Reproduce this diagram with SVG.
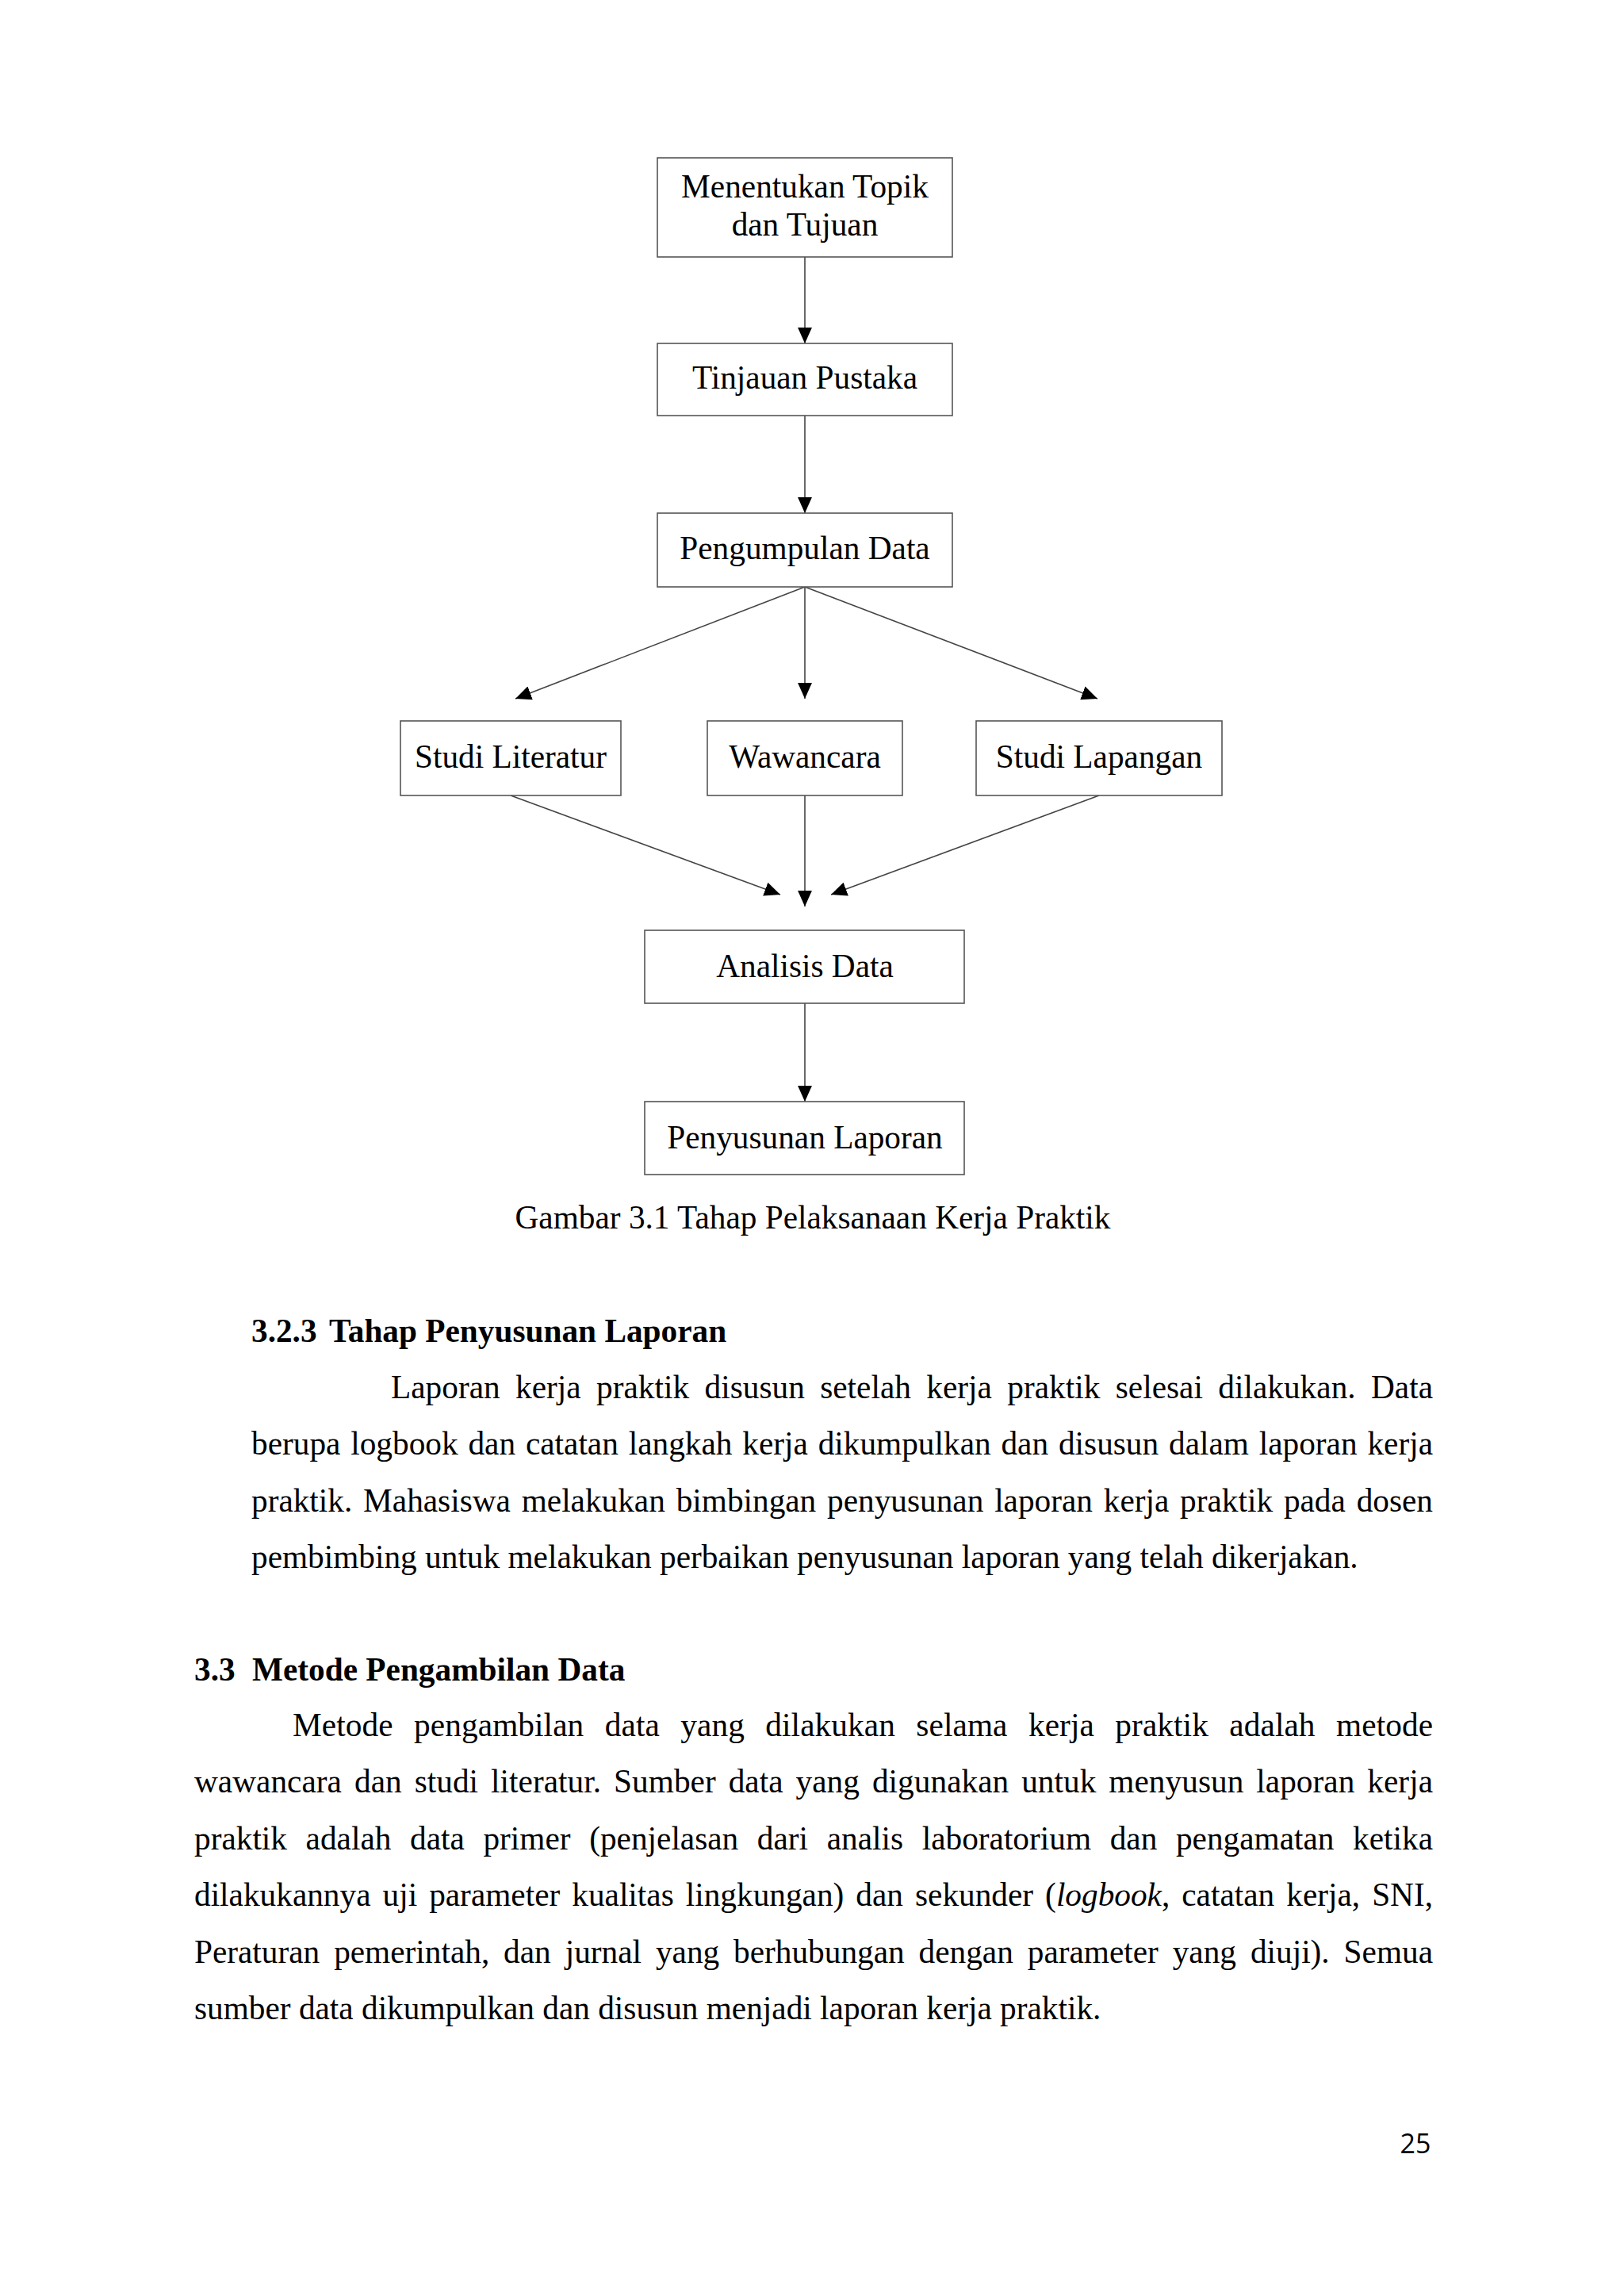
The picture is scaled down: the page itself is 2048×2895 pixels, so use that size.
<svg xmlns="http://www.w3.org/2000/svg" width="2048" height="2895" viewBox="0 0 2048 2895">
<style>
.box{fill:#fff;stroke:#555;stroke-width:1.6}
.bt{font-family:"Liberation Serif","Times New Roman",serif;font-size:41.3px;fill:#000;text-anchor:middle}
.con{stroke:#444;stroke-width:1.6;fill:none;marker-end:url(#ah)}
.p{font-family:"Liberation Serif","Times New Roman",serif;font-size:41.3px;fill:#000}
.h{font-family:"Liberation Serif","Times New Roman",serif;font-size:41.3px;font-weight:bold;fill:#000}
.pg{font-family:"Open Sans","Liberation Sans",sans-serif;font-size:34px;fill:#000;text-anchor:middle}
</style>
<defs>
<marker id="ah" markerUnits="userSpaceOnUse" markerWidth="20" markerHeight="18" viewBox="0 0 19 17" refX="19" refY="8.5" orient="auto">
<path d="M0,0 L19,8.5 L0,17 z" fill="#000"/>
</marker>
</defs>
<rect width="2048" height="2895" fill="#fff"/>
<g id="connectors">
<line class="con" x1="1015" y1="324" x2="1015" y2="433"/>
<line class="con" x1="1015" y1="524" x2="1015" y2="647"/>
<line class="con" x1="1015" y1="740" x2="650" y2="881"/>
<line class="con" x1="1015" y1="740" x2="1015" y2="881"/>
<line class="con" x1="1015" y1="740" x2="1384" y2="881"/>
<line class="con" x1="644" y1="1003" x2="984" y2="1128"/>
<line class="con" x1="1015" y1="1003" x2="1015" y2="1143"/>
<line class="con" x1="1386" y1="1003" x2="1048" y2="1128"/>
<line class="con" x1="1015" y1="1265" x2="1015" y2="1389"/>
</g>
<g id="n1"><rect class="box" x="829" y="199" width="372" height="125"/><text class="bt" x="1015" y="249">Menentukan Topik</text><text class="bt" x="1015" y="297">dan Tujuan</text></g>
<g id="n2"><rect class="box" x="829" y="433" width="372" height="91"/><text class="bt" x="1015" y="490">Tinjauan Pustaka</text></g>
<g id="n3"><rect class="box" x="829" y="647" width="372" height="93"/><text class="bt" x="1015" y="705">Pengumpulan Data</text></g>
<g id="n4"><rect class="box" x="505" y="909" width="278" height="94"/><text class="bt" x="644" y="968">Studi Literatur</text></g>
<g id="n5"><rect class="box" x="892" y="909" width="246" height="94"/><text class="bt" x="1015" y="968">Wawancara</text></g>
<g id="n6"><rect class="box" x="1231" y="909" width="310" height="94"/><text class="bt" x="1386" y="968">Studi Lapangan</text></g>
<g id="n7"><rect class="box" x="813" y="1173" width="403" height="92"/><text class="bt" x="1015" y="1232">Analisis Data</text></g>
<g id="n8"><rect class="box" x="813" y="1389" width="403" height="92"/><text class="bt" x="1015" y="1448">Penyusunan Laporan</text></g>
<text class="bt" x="1025" y="1549">Gambar 3.1 Tahap Pelaksanaan Kerja Praktik</text>
<g id="body">
<text class="h" x="317" y="1692">3.2.3</text>
<text class="h" x="415" y="1692">Tahap Penyusunan Laporan</text>
<text class="p" x="493" y="1763" word-spacing="9" textLength="1314" lengthAdjust="spacing">Laporan kerja praktik disusun setelah kerja praktik selesai dilakukan. Data</text>
<text class="p" x="317" y="1834" word-spacing="2.5" textLength="1490" lengthAdjust="spacing">berupa logbook dan catatan langkah kerja dikumpulkan dan disusun dalam laporan kerja</text>
<text class="p" x="317" y="1906" word-spacing="3.5" textLength="1490" lengthAdjust="spacing">praktik. Mahasiswa melakukan bimbingan penyusunan laporan kerja praktik pada dosen</text>
<text class="p" x="317" y="1977">pembimbing untuk melakukan perbaikan penyusunan laporan yang telah dikerjakan.</text>
<text class="h" x="245" y="2119">3.3</text>
<text class="h" x="318" y="2119">Metode Pengambilan Data</text>
<text class="p" x="369" y="2189" word-spacing="16" textLength="1438" lengthAdjust="spacing">Metode pengambilan data yang dilakukan selama kerja praktik adalah metode</text>
<text class="p" x="245" y="2260" word-spacing="5.6" textLength="1562" lengthAdjust="spacing">wawancara dan studi literatur. Sumber data yang digunakan untuk menyusun laporan kerja</text>
<text class="p" x="245" y="2332" word-spacing="13.3" textLength="1562" lengthAdjust="spacing">praktik adalah data primer (penjelasan dari analis laboratorium dan pengamatan ketika</text>
<text class="p" x="245" y="2403" word-spacing="4.7" textLength="1562" lengthAdjust="spacing">dilakukannya uji parameter kualitas lingkungan) dan sekunder (<tspan font-style="italic">logbook</tspan>, catatan kerja, SNI,</text>
<text class="p" x="245" y="2475" word-spacing="7.6" textLength="1562" lengthAdjust="spacing">Peraturan pemerintah, dan jurnal yang berhubungan dengan parameter yang diuji). Semua</text>
<text class="p" x="245" y="2546">sumber data dikumpulkan dan disusun menjadi laporan kerja praktik.</text>
</g>
<text class="pg" x="1785" y="2715">25</text>
</svg>
